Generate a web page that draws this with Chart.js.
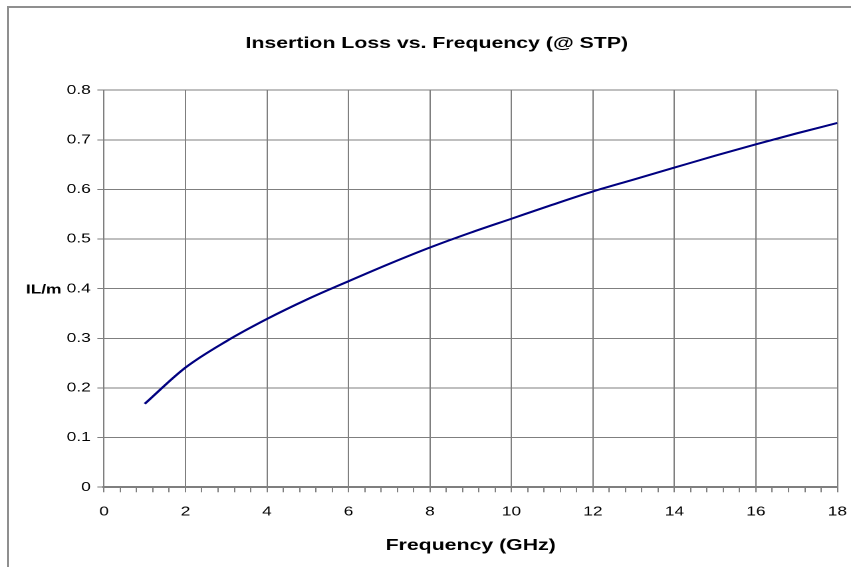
<!DOCTYPE html>
<html>
<head>
<meta charset="utf-8">
<script src="https://cdn.jsdelivr.net/npm/chart.js@4"></script>
<style>
  body { margin: 0; background: #fff; }
  #wrap { position: relative; width: 851px; height: 567px; overflow: hidden; }
  /* the reference picture is stretched sideways, so stretch the canvas the same way */
  #stretch { position: absolute; left: 0; top: 0; width: 649px; height: 567px;
             transform: scaleX(1.3297); transform-origin: 0 0; }
  #frame { position: absolute; left: 7px; top: 6px; right: -10px; bottom: -10px;
           border-top: 2px solid #8f8f8f; border-left: 2px solid #8f8f8f; pointer-events: none; }
</style>
</head>
<body>
<div id="wrap">
  <div id="stretch"><canvas id="myChart" width="649" height="567"></canvas></div>
  <div id="frame"></div>
</div>
<script>
// values
const freqGHz = [1, 2, 3, 4, 5, 6, 7, 8, 9, 10, 11, 12, 13, 14, 15, 16, 17, 18];
const lossPerM = [0.168, 0.241, 0.294, 0.339, 0.379, 0.415, 0.450, 0.483, 0.513, 0.541,
                  0.569, 0.596, 0.620, 0.644, 0.668, 0.691, 0.713, 0.734];
const xTickLabels = ["0", "2", "4", "6", "8", "10", "12", "14", "16", "18"];
const yTickLabels = ["0", "0.1", "0.2", "0.3", "0.4", "0.5", "0.6", "0.7", "0.8"];

const fontFam = "'Liberation Sans', Arial, sans-serif";
const gridGray = "#7f7f7f";

function isMajor(v) {
  return Math.abs(v / 2 - Math.round(v / 2)) < 1e-6;
}

// horizontal "IL/m" next to the 0.4 tick, like Excel does
const yTitlePlugin = {
  id: "yTitle",
  afterDraw(chart) {
    const y = chart.scales.y;
    const ctx = chart.ctx;
    ctx.save();
    ctx.font = "bold 13px " + fontFam;
    ctx.fillStyle = "#000";
    ctx.textAlign = "left";
    ctx.textBaseline = "middle";
    ctx.fillText("IL/m", 19.5, y.getPixelForValue(0.4) + 1);
    ctx.restore();
  }
};

new Chart("myChart", {
  type: "line",
  data: {
    datasets: [{
      data: freqGHz.map((f, i) => ({x: f, y: lossPerM[i]})),
      borderColor: "#000080",
      borderWidth: 2,
      pointRadius: 0,
      cubicInterpolationMode: "monotone",
      fill: false
    }]
  },
  options: {
    responsive: false,
    animation: false,
    devicePixelRatio: 2,
    layout: {padding: {left: 8, right: 0, top: 10, bottom: 8}},
    plugins: {
      legend: {display: false},
      tooltip: {enabled: false},
      title: {
        display: true,
        text: "Insertion Loss vs. Frequency (@ STP)",
        color: "#000",
        font: {family: fontFam, size: 16, weight: "bold"},
        padding: {top: 24, bottom: 37}
      }
    },
    scales: {
      x: {
        type: "linear",
        min: 0,
        max: 18,
        ticks: {
          stepSize: 0.4,
          autoSkip: false,
          maxRotation: 0,
          padding: 12,
          color: "#000",
          font: {family: fontFam, size: 13},
          callback: v => isMajor(v) ? xTickLabels[Math.round(v / 2)] : ""
        },
        grid: {
          color: ctx => isMajor(ctx.tick.value) ? gridGray : "rgba(0,0,0,0)",
          tickColor: gridGray,
          tickLength: 5,
          lineWidth: 1
        },
        border: {color: gridGray, width: 2},
        title: {
          display: true,
          text: "Frequency (GHz)",
          color: "#000",
          font: {family: fontFam, size: 16, weight: "bold"},
          padding: {top: 4, bottom: 4}
        }
      },
      y: {
        min: 0,
        max: 0.8,
        afterFit: s => { s.width = 70.2; },
        ticks: {
          stepSize: 0.1,
          padding: 5,
          color: "#000",
          font: {family: fontFam, size: 13},
          callback: v => yTickLabels[Math.round(v * 10)]
        },
        grid: {color: gridGray, tickColor: gridGray, tickLength: 5, lineWidth: 1},
        border: {color: gridGray, width: 1}
      }
    }
  },
  plugins: [yTitlePlugin]
});
</script>
</body>
</html>
